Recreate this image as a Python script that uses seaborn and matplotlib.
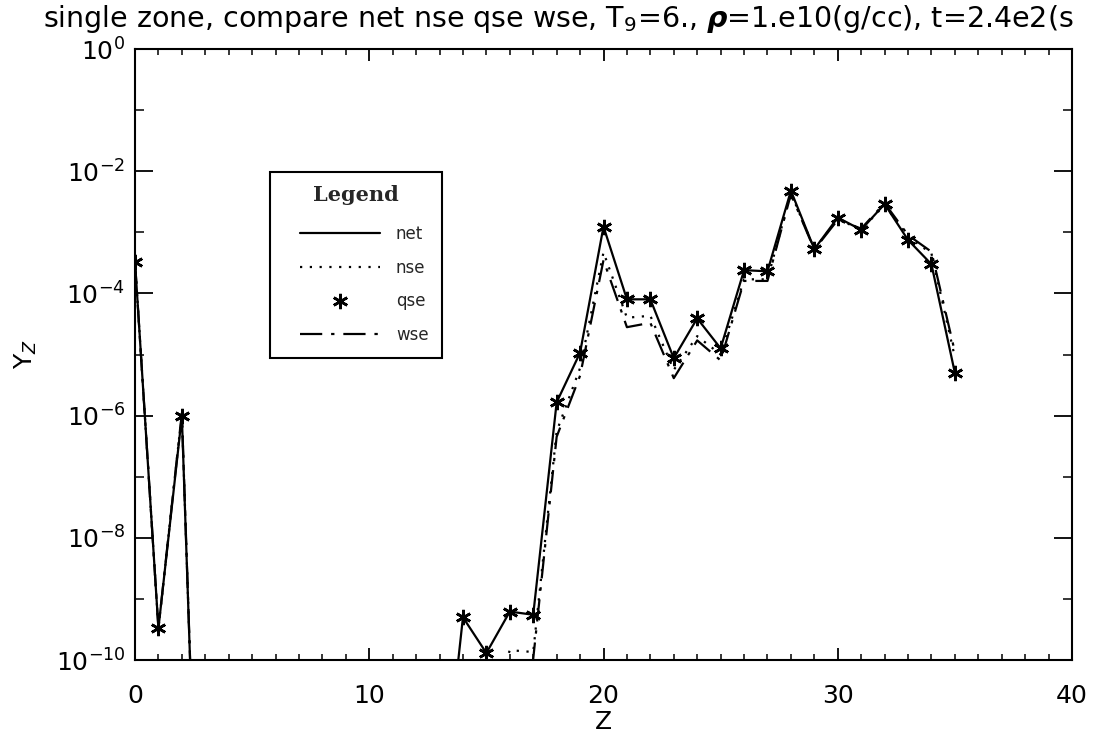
import numpy as np
import pandas as pd
import matplotlib
matplotlib.use("Agg")
import matplotlib.pyplot as plt
import seaborn as sns
from matplotlib.ticker import FixedLocator, LogFormatterSciNotation, NullFormatter
from matplotlib.legend_handler import HandlerLine2D

# ---- data ----
Z = list(range(36))
net = [3.3e-4, 3.3e-10, 9.8e-7, 4e-18,
       1e-20, 1e-20, 1e-20, 1e-20, 1e-20, 1e-20, 1e-20, 1e-20, 1e-20,
       1.5e-13, 5e-10, 1.3e-10, 6.2e-10, 5.5e-10, 1.65e-6, 1.07e-5,
       1.24e-3, 8e-5, 8e-5, 8.7e-6, 3.9e-5, 1.26e-5, 2.4e-4, 2.3e-4,
       4.8e-3, 5.3e-4, 1.74e-3, 1.1e-3, 2.9e-3, 7.5e-4, 3e-4, 5e-6]
nse = [3.3e-4, 3.3e-10, 1.1e-6, 4e-18,
       1e-20, 1e-20, 1e-20, 1e-20, 1e-20, 1e-20, 1e-20, 1e-20, 1e-20,
       1e-20, 1e-20, 1e-11, 1.45e-10, 1.35e-10, 5.5e-7, 6e-6,
       4.7e-4, 4e-5, 4.3e-5, 5.6e-6, 2e-5, 1e-5, 1.7e-4, 1.7e-4,
       4.4e-3, 5.3e-4, 1.65e-3, 1.1e-3, 2.8e-3, 8.5e-4, 4.5e-4, 9e-6]
qse = [3.3e-4, 3.3e-10, 9.8e-7, 4e-18,
       1e-20, 1e-20, 1e-20, 1e-20, 1e-20, 1e-20, 1e-20, 1e-20, 1e-20,
       1.5e-13, 5e-10, 1.3e-10, 6.2e-10, 5.5e-10, 1.65e-6, 1.07e-5,
       1.24e-3, 8e-5, 8e-5, 8.7e-6, 3.9e-5, 1.26e-5, 2.4e-4, 2.3e-4,
       4.8e-3, 5.3e-4, 1.74e-3, 1.1e-3, 2.9e-3, 7.5e-4, 3e-4, 5e-6]
wse = [3.3e-4, 3.3e-10, 1.1e-6, 4e-18,
       1e-20, 1e-20, 1e-20, 1e-20, 1e-20, 1e-20, 1e-20, 1e-20, 1e-20,
       1e-20, 1e-20, 1e-20, 1e-11, 1.05e-10, 4.5e-7, 4.5e-6,
       3.5e-4, 2.8e-5, 3.3e-5, 4.1e-6, 1.7e-5, 8e-6, 1.6e-4, 1.6e-4,
       4.2e-3, 5.2e-4, 1.6e-3, 1.15e-3, 3e-3, 9e-4, 4.8e-4, 1.1e-5]

x_ticks = [0, 10, 20, 30, 40]
y_major = [1e0, 1e-2, 1e-4, 1e-6, 1e-8, 1e-10]
y_minor = [1e-1, 1e-3, 1e-5, 1e-7, 1e-9]
title = r"single zone, compare net nse qse wse, T$_9$=6., $\boldsymbol{\rho}$=1.e10(g/cc), t=2.4e2(s"

sns.set_theme(style="white")
plt.rcParams['font.family'] = ['DejaVu Sans']
plt.rcParams['mathtext.fontset'] = 'dejavusans'

W, H = 1120, 746
fig = plt.figure(figsize=(W / 100, H / 100), dpi=100)
fig.patch.set_facecolor('white')
ax = fig.add_axes([135 / W, 1 - 660 / H, (1072 - 135) / W, (660 - 49) / H])
ax.set_facecolor('white')

lw = 1.6
sns.lineplot(x=Z, y=net, ax=ax, color='black', linewidth=lw, estimator=None,
             sort=False, label='net')
sns.lineplot(x=Z, y=nse, ax=ax, color='black', linewidth=lw, estimator=None,
             sort=False, label='nse', linestyle=(0, (1, 3.4)))
sns.lineplot(x=Z, y=qse, ax=ax, color='black', linewidth=0, estimator=None,
             sort=False, label='qse', linestyle='none', marker=(6, 2, 0),
             markersize=11, markeredgewidth=1.9, markeredgecolor='black')
sns.lineplot(x=Z, y=wse, ax=ax, color='black', linewidth=lw, estimator=None,
             sort=False, label='wse', linestyle=(0, (10, 4, 1.5, 4)))

ax.set_yscale('log')
ax.set_xlim(0, 40)
ax.set_ylim(1e-10, 1e0)
ax.xaxis.set_major_locator(FixedLocator(x_ticks))
ax.xaxis.set_minor_locator(FixedLocator([v for v in range(0, 41) if v % 10]))
ax.yaxis.set_major_locator(FixedLocator(y_major))
ax.yaxis.set_minor_locator(FixedLocator(y_minor))
ax.yaxis.set_major_formatter(LogFormatterSciNotation())
ax.yaxis.set_minor_formatter(NullFormatter())

for s in ax.spines.values():
    s.set_visible(True)
    s.set_color('black')
    s.set_linewidth(1.5)

ax.tick_params(axis='x', which='major', direction='in', length=8.6, width=1.3,
               top=True, bottom=True, pad=17, labelsize=18, colors='black')
ax.tick_params(axis='x', which='minor', direction='in', length=4.3, width=1.3,
               top=True, bottom=True)
ax.tick_params(axis='y', which='major', direction='in', length=13, width=1.3,
               left=True, right=True, pad=7, labelsize=18, colors='black')
ax.tick_params(axis='y', which='minor', direction='in', length=6.5, width=1.3,
               left=True, right=True)

ax.set_xlabel('Z', fontsize=18, labelpad=2, color='black')
ax.set_ylabel('Y$_Z$', fontsize=18, labelpad=12, color='black')

fig.text(43 / W, 1 - 27 / H, title, ha='left', va='baseline', fontsize=20.5,
         color='black')

handles, labels = ax.get_legend_handles_labels()
hmap = {h: HandlerLine2D(xpad=1.0) for h in handles}
leg = ax.legend(handles, labels, loc='upper left',
                bbox_to_anchor=(270 / W, 1 - 172 / H),
                bbox_transform=fig.transFigure,
                title='Legend',
                title_fontproperties={'family': 'DejaVu Serif', 'weight': 'bold', 'size': 15},
                fontsize=12, handlelength=5.8, handletextpad=0.95,
                borderpad=0.8, labelspacing=0.95, frameon=True,
                fancybox=False, edgecolor='black', framealpha=1,
                numpoints=1, borderaxespad=0, handler_map=hmap)
leg.get_frame().set_linewidth(1.5)
leg._legend_box.sep = 14

fig.savefig('out.png', dpi=100, facecolor='white')
